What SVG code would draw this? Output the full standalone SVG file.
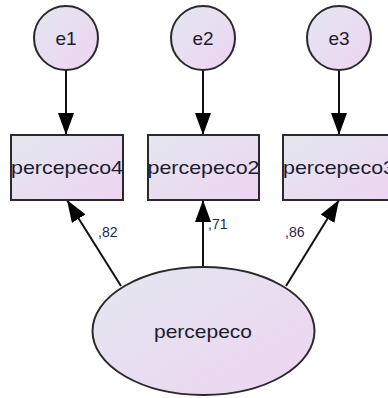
<svg xmlns="http://www.w3.org/2000/svg" width="388" height="398" viewBox="0 0 388 398">
  <defs>
    <linearGradient id="fillGrad" x1="0" y1="0" x2="1" y2="1">
      <stop offset="0" stop-color="#e3e7ef"/>
      <stop offset="1" stop-color="#eed4f2"/>
    </linearGradient>
    <marker id="arrow" markerUnits="userSpaceOnUse" markerWidth="22" markerHeight="16" viewBox="0 0 22 16" refX="22" refY="8" orient="auto">
      <path d="M0,0 L22,8 L0,16 Z" fill="#000"/>
    </marker>
  </defs>
  <style>
    .node { fill: url(#fillGrad); stroke: #2a2a2a; stroke-width: 2; }
    .edge { stroke: #111; stroke-width: 2; fill: none; marker-end: url(#arrow); }
    .lbl { font-family: "Liberation Sans", Arial, sans-serif; fill: #1c1c2e; text-anchor: middle; }
    .big { font-size: 19px; }
    .coef { font-family: "Liberation Sans", Arial, sans-serif; font-size: 14px; fill: #1a2a50; }
  </style>
  <rect width="388" height="398" fill="#fff"/>

  <g id="connectors">
    <line class="edge" x1="66" y1="70" x2="66" y2="135"/>
    <line class="edge" x1="203" y1="70" x2="203" y2="135"/>
    <line class="edge" x1="339" y1="70" x2="339" y2="135"/>
    <line class="edge" x1="121" y1="286" x2="67" y2="200"/>
    <line class="edge" x1="203" y1="267" x2="203" y2="200"/>
    <line class="edge" x1="286" y1="286" x2="339" y2="200"/>
    <text class="coef" x="98" y="237">,82</text>
    <text class="coef" x="208" y="229">,71</text>
    <text class="coef" x="285" y="237">,86</text>
  </g>

  <g id="e1">
    <circle class="node" cx="66" cy="38" r="32"/>
    <text class="lbl big" x="66" y="45">e1</text>
  </g>
  <g id="e2">
    <circle class="node" cx="203" cy="38" r="32"/>
    <text class="lbl big" x="203" y="45">e2</text>
  </g>
  <g id="e3">
    <circle class="node" cx="339" cy="38" r="32"/>
    <text class="lbl big" x="339" y="45">e3</text>
  </g>

  <g id="percepeco4">
    <rect class="node" x="11" y="135" width="112" height="65"/>
    <text class="lbl big" x="67" y="174" textLength="112" lengthAdjust="spacingAndGlyphs">percepeco4</text>
  </g>
  <g id="percepeco2">
    <rect class="node" x="148" y="135" width="111" height="65"/>
    <text class="lbl big" x="203.5" y="174" textLength="112" lengthAdjust="spacingAndGlyphs">percepeco2</text>
  </g>
  <g id="percepeco3">
    <rect class="node" x="283" y="135" width="112" height="65"/>
    <text class="lbl big" x="339" y="174" textLength="112" lengthAdjust="spacingAndGlyphs">percepeco3</text>
  </g>

  <g id="percepeco">
    <ellipse class="node" cx="203.5" cy="331" rx="111" ry="64"/>
    <text class="lbl big" x="203" y="338" textLength="98" lengthAdjust="spacingAndGlyphs">percepeco</text>
  </g>
</svg>
